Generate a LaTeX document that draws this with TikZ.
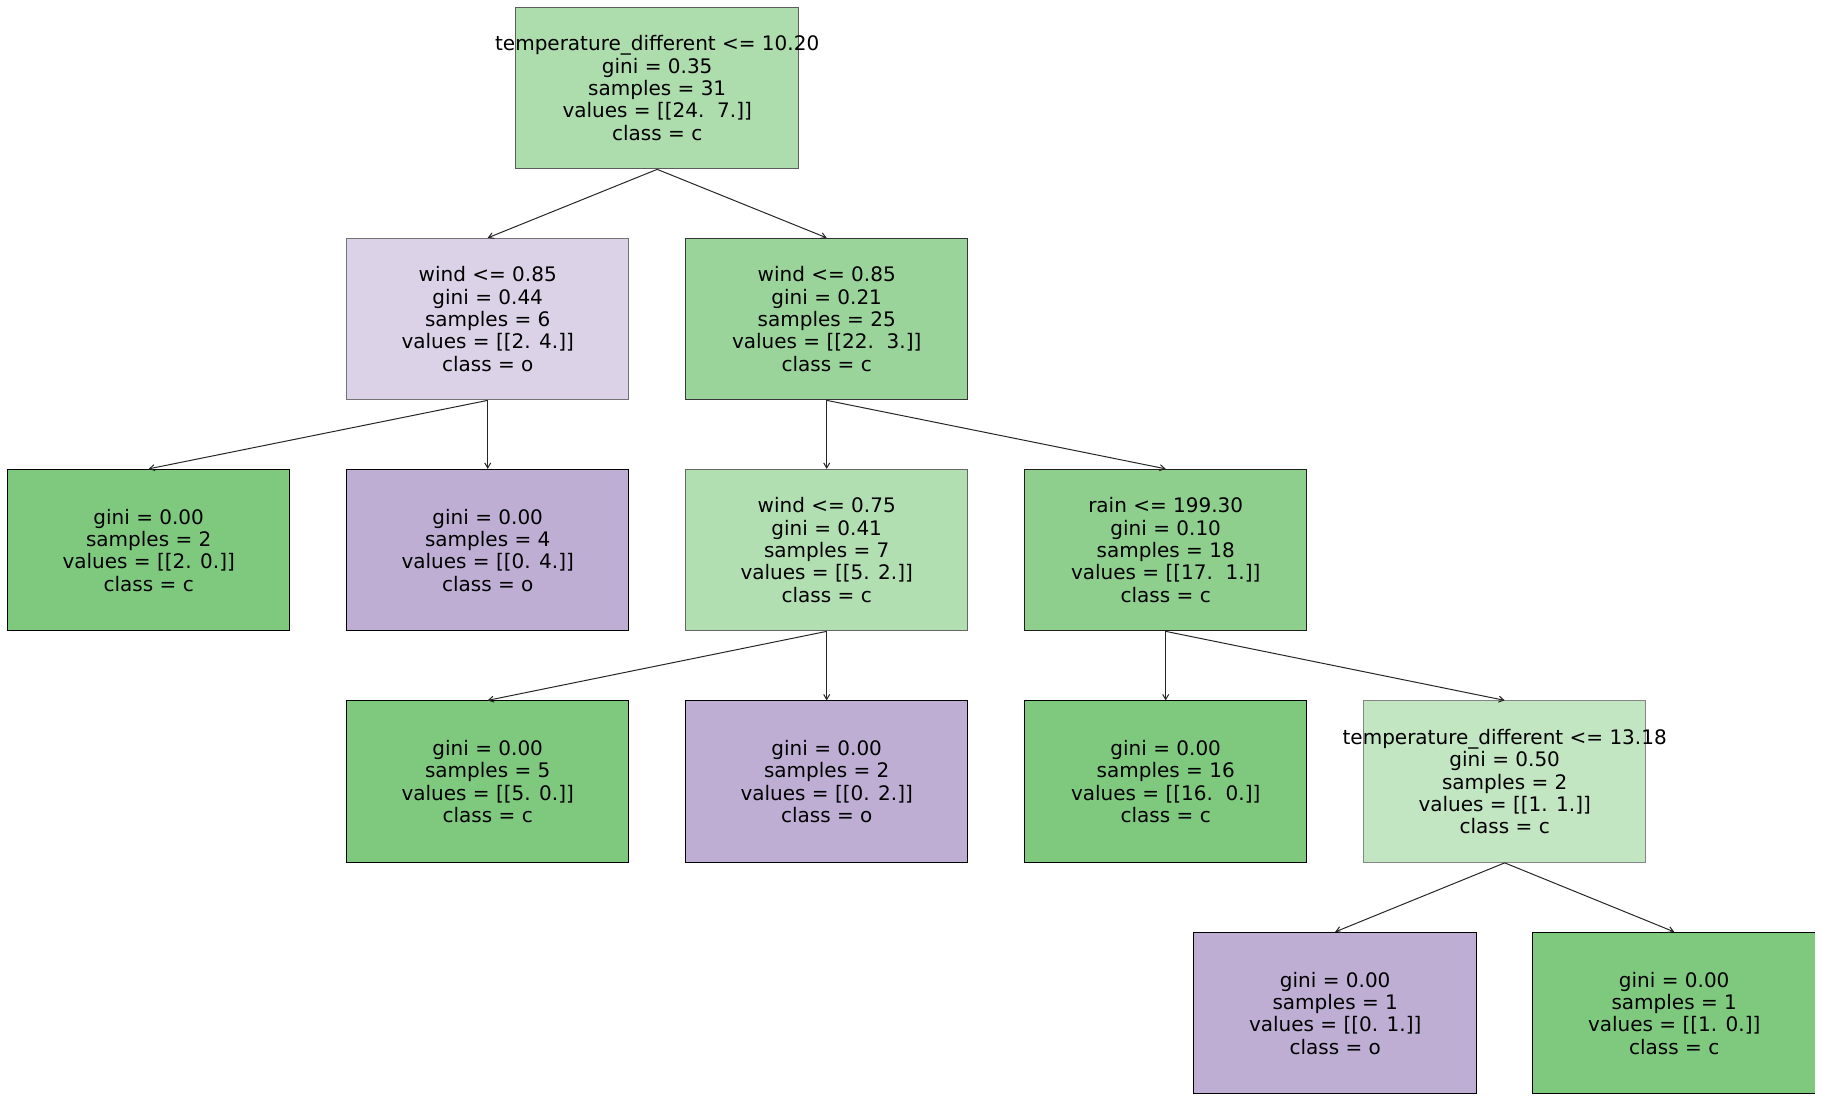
\documentclass[tikz,border=0pt]{standalone}
\usepackage{fontspec}
\setmainfont{DejaVu Sans}
\usetikzlibrary{arrows.meta}
\definecolor{cgreen}{RGB}{127,201,127}
\definecolor{cpurple}{RGB}{190,174,212}
\tikzset{
  box/.style={rectangle, minimum width=282.5pt, minimum height=161.5pt, inner sep=0pt, line width=1pt},
  gbox/.style={box, fill=cgreen!#1!white, draw=black!#1!white},
  pbox/.style={box, fill=cpurple!#1!white, draw=black!#1!white},
  txt/.style={align=center, inner sep=0pt, text=black, font=\fontsize{20}{22.3}\selectfont},
  edge/.style={line width=1pt, draw=black!85, -{Straight Barb[length=5pt,width=6pt]}}
}
\begin{document}
\begin{tikzpicture}[x=1pt, y=-1pt]
\useasboundingbox (0,0) rectangle (1822,1101);
\begin{scope}
\clip (0,0) rectangle (1814.8,1093);
% level 1
\node[gbox=64] (r0) at (657.2,88.1) {};
% level 2
\node[pbox=55] (a) at (487.7,319.1) {};
\node[gbox=79] (b) at (826.7,319.1) {};
% level 3
\node[gbox=100] (c) at (148.7,550.1) {};
\node[pbox=100] (d) at (487.7,550.1) {};
\node[gbox=60] (e) at (826.7,550.1) {};
\node[gbox=88] (f) at (1165.7,550.1) {};
% level 4
\node[gbox=100] (g) at (487.7,781.6) {};
\node[pbox=100] (h) at (826.7,781.6) {};
\node[gbox=100] (i) at (1165.7,781.6) {};
\node[gbox=48] (j) at (1504.7,781.6) {};
% level 5
\node[pbox=100] (k) at (1335.2,1013.1) {};
\node[gbox=100] (l) at (1674.2,1013.1) {};
\end{scope}
% texts
\node[txt] (r0t) at (r0.center) {temperature\_different <= 10.20\\gini = 0.35\\samples = 31\\values = [[24.~~7.]]\\class = c};
\node[txt] (at) at (a.center) {wind <= 0.85\\gini = 0.44\\samples = 6\\values = [[2. 4.]]\\class = o};
\node[txt] (bt) at (b.center) {wind <= 0.85\\gini = 0.21\\samples = 25\\values = [[22.~~3.]]\\class = c};
\node[txt] (ct) at (c.center) {gini = 0.00\\samples = 2\\values = [[2. 0.]]\\class = c};
\node[txt] (dt) at (d.center) {gini = 0.00\\samples = 4\\values = [[0. 4.]]\\class = o};
\node[txt] (et) at (e.center) {wind <= 0.75\\gini = 0.41\\samples = 7\\values = [[5. 2.]]\\class = c};
\node[txt] (ft) at (f.center) {rain <= 199.30\\gini = 0.10\\samples = 18\\values = [[17.~~1.]]\\class = c};
\node[txt] (gt) at (g.center) {gini = 0.00\\samples = 5\\values = [[5. 0.]]\\class = c};
\node[txt] (ht) at (h.center) {gini = 0.00\\samples = 2\\values = [[0. 2.]]\\class = o};
\node[txt] (it) at (i.center) {gini = 0.00\\samples = 16\\values = [[16.~~0.]]\\class = c};
\node[txt] (jt) at (j.center) {temperature\_different <= 13.18\\gini = 0.50\\samples = 2\\values = [[1. 1.]]\\class = c};
\node[txt] (kt) at (k.center) {gini = 0.00\\samples = 1\\values = [[0. 1.]]\\class = o};
\node[txt] (lt) at (l.center) {gini = 0.00\\samples = 1\\values = [[1. 0.]]\\class = c};
% edges
\draw[edge] (r0.south) -- (a.north);
\draw[edge] (r0.south) -- (b.north);
\draw[edge] (a.south) -- (c.north);
\draw[edge] (a.south) -- (d.north);
\draw[edge] (b.south) -- (e.north);
\draw[edge] (b.south) -- (f.north);
\draw[edge] (e.south) -- (g.north);
\draw[edge] (e.south) -- (h.north);
\draw[edge] (f.south) -- (i.north);
\draw[edge] (f.south) -- (j.north);
\draw[edge] (j.south) -- (k.north);
\draw[edge] (j.south) -- (l.north);
\end{tikzpicture}
\end{document}
